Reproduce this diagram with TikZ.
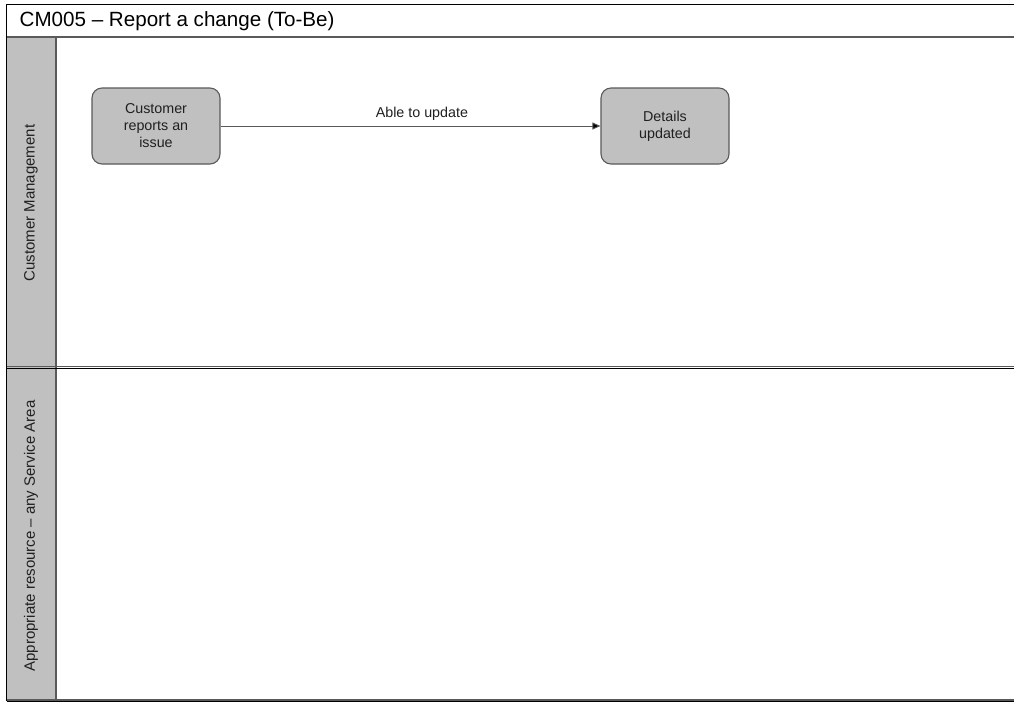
\documentclass[tikz,border=0pt]{standalone}
\usepackage{fontspec}
\setmainfont{Liberation Sans}
\usetikzlibrary{arrows.meta}
\definecolor{lanegray}{HTML}{C0C0C0}
\definecolor{edgegray}{HTML}{5A5A5A}
\definecolor{inkgray}{HTML}{202020}
\tikzset{
  task/.style={draw=edgegray, line width=1.1pt, fill=lanegray, rounded corners=10pt,
    minimum width=128pt, minimum height=76pt, align=center, text=inkgray,
    font=\fontsize{14.3}{17}\selectfont, inner sep=0pt},
  lanelabel/.style={rotate=90, text=inkgray, font=\fontsize{15}{17}\selectfont},
  flow/.style={draw=edgegray, line width=0.9pt, -{Triangle[length=8pt,width=7pt,fill=black]}},
  flowlabel/.style={text=inkgray, font=\fontsize{14.3}{16}\selectfont}
}
\begin{document}
\begin{tikzpicture}[x=1pt,y=-1pt]
\useasboundingbox (0,0) rectangle (1014,702);
\fill[white] (0,0) rectangle (1014,702);

% lane header column
\fill[lanegray] (7,37) rectangle (56,700);
\draw[edgegray, line width=1.2pt] (56,37) -- (56,700);

% outer frame: top and left
\draw[black, line width=1.5pt] (1014,4.5) -- (6.5,4.5) -- (6.5,701);
% title row bottom
\draw[edgegray, line width=1.2pt] (6.5,37) -- (1014,37);
\node[anchor=west, text=black, inner sep=0pt, font=\fontsize{20.6}{24}\selectfont] (title) at (19.5,21) {CM005 – Report a change (To-Be)};

% lane divider (double rule)
\draw[edgegray, line width=1.3pt] (6.5,366.3) -- (1014,366.3);
\draw[black, line width=1.1pt] (6.5,368.6) -- (1014,368.6);

% bottom rule
\draw[edgegray, line width=1.2pt] (6.5,700) -- (1014,700);
\draw[black, line width=0.6pt] (6.5,701.2) -- (1014,701.2);

% lane titles
\node[lanelabel] (lane1) at (31,203) {Customer Management};
\node[lanelabel] (lane2) at (31,536) {Appropriate resource – any Service Area};

% tasks
\node[task] (report) at (156,126) {Customer\\reports an\\issue};
\node[task] (updated) at (665,126) {Details\\updated};

% flow
\draw[flow] (report) -- node[flowlabel, above=1.5pt, pos=0.53] (lbl) {Able to update} (updated);
\end{tikzpicture}
\end{document}
